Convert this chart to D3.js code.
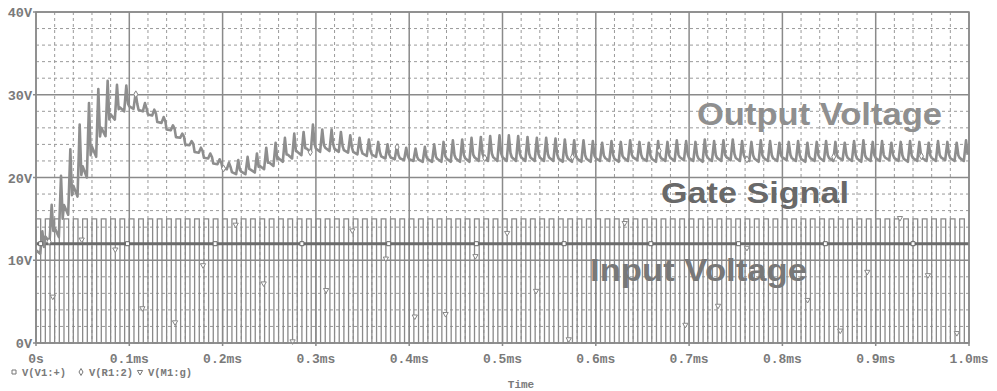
<!DOCTYPE html>
<html>
<head>
<meta charset="utf-8">
<script src="https://cdn.jsdelivr.net/npm/d3@7"></script>
<style>
  body { margin: 0; background: #fff; }
  svg { display: block; }
</style>
</head>
<body>
<div id="chart"></div>
<script>
// axis ticks
var timeTicks = [0, 0.1, 0.2, 0.3, 0.4, 0.5, 0.6, 0.7, 0.8, 0.9, 1.0];
var timeLabels = ["0s", "0.1ms", "0.2ms", "0.3ms", "0.4ms", "0.5ms", "0.6ms", "0.7ms", "0.8ms", "0.9ms", "1.0ms"];
var voltTicks = [0, 10, 20, 30, 40];
var voltLabels = ["0V", "10V", "20V", "30V", "40V"];

// switching: 100 cycles of 10us, gate 0..15V
var switchPeriod = 0.01;   // ms
var dutyCycle = 0.5;
var gateLow = 0, gateHigh = 15;

// input voltage V(V1:+)
var inputVoltage = 12;
var inputMarkers = [0.005, 0.098, 0.192, 0.285, 0.378, 0.472, 0.566, 0.659, 0.753, 0.846, 0.940];

// output voltage V(R1:2): trough / peak for every switching cycle
var outLow = [
  10.8, 12.2, 12.8, 15.5, 17.7, 20.0, 22.5, 25.0, 27.0, 28.0,
  28.3, 28.0, 27.5, 26.6, 25.7, 24.8, 23.9, 23.0, 22.3, 21.6,
  21.0, 20.4, 20.4, 20.6, 21.0, 21.4, 21.9, 22.3, 22.7, 23.0,
  23.1, 23.2, 23.1, 23.0, 22.8, 22.6, 22.5, 22.3, 22.2, 22.1,
  22.0, 21.9, 21.9, 21.9, 21.9, 21.9, 21.9, 22.0, 22.0, 22.0,
  22.0, 22.0, 22.0, 22.0, 22.0, 22.0, 21.9, 21.9, 21.9, 21.9,
  22.0, 22.0, 21.9, 22.0, 22.1, 22.0, 21.9, 22.0, 22.0, 22.1,
  22.0, 21.9, 22.0, 22.0, 22.1, 22.0, 22.0, 21.9, 22.0, 22.0,
  22.1, 22.0, 21.9, 22.0, 22.0, 22.0, 22.1, 22.0, 21.9, 22.0,
  22.0, 22.1, 22.0, 21.9, 22.0, 22.0, 22.0, 22.1, 22.0, 22.0
];
var outHigh = [
  13.5, 16.7, 20.2, 23.4, 26.4, 29.0, 30.7, 31.7, 31.2, 31.1,
  30.2, 29.0, 28.2, 27.3, 26.3, 25.3, 24.4, 23.6, 22.9, 22.2,
  21.8, 22.1, 22.5, 22.9, 23.6, 24.2, 24.8, 25.3, 25.5, 26.4,
  25.8, 25.8, 25.5, 25.1, 24.8, 24.6, 24.3, 24.0, 23.8, 23.6,
  23.5, 23.7, 24.0, 24.3, 24.5, 24.6, 24.8, 24.9, 25.0, 25.1,
  25.1, 25.0, 24.9, 24.8, 24.8, 24.7, 24.6, 24.5, 24.5, 24.4,
  24.2, 24.4, 24.3, 24.5, 24.3, 24.2, 24.4, 24.3, 24.5, 24.4,
  24.3, 24.6, 24.4, 24.5, 24.6, 24.4, 24.3, 24.5, 24.4, 24.2,
  24.3, 24.4, 24.2, 24.3, 24.4, 24.3, 24.2, 24.4, 24.5, 24.3,
  24.4, 24.2, 24.3, 24.4, 24.3, 24.2, 24.4, 24.3, 24.2, 24.5
];
var outMarkers = [0.014, 0.107, 0.201, 0.294, 0.387, 0.481, 0.575, 0.668, 0.762, 0.855, 0.949];

// gate V(M1:g) markers: time (ms), volts
var gateMarkT = [0.018, 0.049, 0.085, 0.114, 0.149, 0.179, 0.214, 0.244, 0.275, 0.311, 0.339, 0.375, 0.406, 0.439,
                 0.471, 0.505, 0.536, 0.571, 0.631, 0.696, 0.731, 0.762, 0.827, 0.862, 0.891, 0.926, 0.956, 0.987];
var gateMarkV = [5.6, 12.5, 11.3, 4.2, 2.5, 9.4, 14.3, 7.2, 0.2, 6.4, 13.6, 10.2, 3.2, 3.5,
                 10.5, 13.3, 6.3, 0.45, 14.5, 2.2, 4.5, 11.5, 5.2, 1.5, 8.6, 15.1, 8.2, 1.2];

var width = 997, height = 391;
var plotL = 36, plotR = 969, plotT = 12, plotB = 343;

var svg = d3.select("#chart").append("svg")
  .attr("width", width)
  .attr("height", height);

var x = d3.scaleLinear().domain([0, 1]).range([plotL, plotR]);
var y = d3.scaleLinear().domain([0, 40]).range([plotB, plotT]);

var mono = "'Liberation Mono', 'DejaVu Sans Mono', monospace";
var sans = "'Liberation Sans', Arial, sans-serif";

// minor dashed grid
var minorX = d3.range(0, 50).map(function(i) { return i * 0.02; }).filter(function(t, i) { return i % 5 != 0; });
var minorY = d3.range(0, 20).map(function(i) { return i * 2; }).filter(function(v, i) { return i % 5 != 0; });

svg.append("g").selectAll("line").data(minorX).enter().append("line")
  .attr("x1", function(d) { return x(d); }).attr("x2", function(d) { return x(d); })
  .attr("y1", plotT).attr("y2", plotB)
  .attr("stroke", "#9a9a9a").attr("stroke-width", 1).attr("stroke-dasharray", "3,3");
svg.append("g").selectAll("line").data(minorY).enter().append("line")
  .attr("y1", function(d) { return y(d); }).attr("y2", function(d) { return y(d); })
  .attr("x1", plotL).attr("x2", plotR)
  .attr("stroke", "#9a9a9a").attr("stroke-width", 1).attr("stroke-dasharray", "3,3");

// major solid grid
svg.append("g").selectAll("line").data(timeTicks).enter().append("line")
  .attr("x1", function(d) { return x(d); }).attr("x2", function(d) { return x(d); })
  .attr("y1", plotT).attr("y2", plotB + 3)
  .attr("stroke", "#8a8a8a").attr("stroke-width", 1.5);
svg.append("g").selectAll("line").data(voltTicks).enter().append("line")
  .attr("y1", function(d) { return y(d); }).attr("y2", function(d) { return y(d); })
  .attr("x1", plotL - 3).attr("x2", plotR)
  .attr("stroke", "#8a8a8a").attr("stroke-width", 1.5);

// gate signal square wave
var gatePts = [];
var nCycles = Math.round(1 / switchPeriod);
for (var k = 0; k < nCycles; k++) {
  var t0 = k * switchPeriod, t1 = t0 + dutyCycle * switchPeriod;
  gatePts.push([t0, gateLow], [t0, gateHigh], [t1, gateHigh], [t1, gateLow]);
}
gatePts.push([1, gateLow]);

var line = d3.line()
  .x(function(d) { return x(d[0]); })
  .y(function(d) { return y(d[1]); });

svg.append("path")
  .attr("d", line(gatePts))
  .attr("fill", "none")
  .attr("stroke", "#8a8a8a")
  .attr("stroke-width", 1.3);

// input voltage
svg.append("path")
  .attr("d", line([[0, inputVoltage], [1, inputVoltage]]))
  .attr("stroke", "#6a6a6a")
  .attr("stroke-width", 3);

// output voltage: flat-ish bottom then a narrow spike each cycle
var outPts = [];
for (var k = 0; k < outLow.length; k++) {
  var t0 = k * switchPeriod;
  var lo = outLow[k], hi = outHigh[k];
  outPts.push([t0, lo + 0.15 * (hi - lo)],
              [t0 + 0.45 * switchPeriod, lo],
              [t0 + 0.68 * switchPeriod, hi],
              [t0 + 0.86 * switchPeriod, lo + 0.3 * (hi - lo)]);
}

svg.append("path")
  .attr("d", line(outPts))
  .attr("fill", "none")
  .attr("stroke", "#8e8e8e")
  .attr("stroke-width", 2.6)
  .attr("stroke-linejoin", "round");

// markers
var sq = d3.symbol().type(d3.symbolSquare).size(16);
var dia = d3.symbol().type(d3.symbolDiamond).size(14);
var tri = d3.symbol().type(d3.symbolTriangle).size(12);

function outAt(t) {
  var i = d3.bisector(function(d) { return d[0]; }).left(outPts, t);
  var a = outPts[Math.max(0, i - 1)], b = outPts[Math.min(outPts.length - 1, i)];
  if (b[0] == a[0]) return a[1];
  return a[1] + (b[1] - a[1]) * (t - a[0]) / (b[0] - a[0]);
}

svg.append("g").selectAll("path").data(inputMarkers).enter().append("path")
  .attr("d", sq)
  .attr("transform", function(d) { return "translate(" + x(d) + "," + y(inputVoltage) + ")"; })
  .attr("fill", "#fff").attr("stroke", "#666").attr("stroke-width", 1);

svg.append("g").selectAll("path").data(outMarkers).enter().append("path")
  .attr("d", dia)
  .attr("transform", function(d) { return "translate(" + x(d) + "," + y(outAt(d)) + ")"; })
  .attr("fill", "#fff").attr("stroke", "#888").attr("stroke-width", 1);

svg.append("g").selectAll("path").data(gateMarkT).enter().append("path")
  .attr("d", tri)
  .attr("transform", function(d, i) { return "translate(" + x(d) + "," + y(gateMarkV[i]) + ") rotate(180)"; })
  .attr("fill", "#fff").attr("stroke", "#888").attr("stroke-width", 1);

// frame
svg.append("rect")
  .attr("x", plotL).attr("y", plotT)
  .attr("width", plotR - plotL).attr("height", plotB - plotT)
  .attr("fill", "none").attr("stroke", "#8a8a8a").attr("stroke-width", 1.5);

// tick labels
svg.append("g").selectAll("text").data(voltTicks).enter().append("text")
  .attr("x", 32)
  .attr("y", function(d) { return y(d) + 5; })
  .attr("text-anchor", "end")
  .style("font-family", mono).style("font-size", "13.5px").style("font-weight", "bold")
  .attr("fill", "#7a7a7a")
  .text(function(d, i) { return voltLabels[i]; });

svg.append("g").selectAll("text").data(timeTicks).enter().append("text")
  .attr("x", function(d) { return x(d); })
  .attr("y", 363)
  .attr("text-anchor", "middle")
  .style("font-family", mono).style("font-size", "13px").style("font-weight", "bold")
  .attr("fill", "#7a7a7a")
  .text(function(d, i) { return timeLabels[i]; });

// legend
var legend = svg.append("g").attr("transform", "translate(0,373)");
var legendItems = [
  { sym: sq, x: 14, label: "V(V1:+)", rot: 0 },
  { sym: dia, x: 81, label: "V(R1:2)", rot: 0 },
  { sym: tri, x: 140, label: "V(M1:g)", rot: 180 }
];
legendItems.forEach(function(d) {
  legend.append("path")
    .attr("d", d.sym)
    .attr("transform", "translate(" + d.x + ",-1) rotate(" + d.rot + ")")
    .attr("fill", "#fff").attr("stroke", "#777").attr("stroke-width", 1);
  legend.append("text")
    .attr("x", d.x + 8).attr("y", 3)
    .style("font-family", mono).style("font-size", "10.5px").style("font-weight", "bold")
    .attr("fill", "#7a7a7a")
    .text(d.label);
});

svg.append("text")
  .attr("x", 521).attr("y", 388)
  .attr("text-anchor", "middle")
  .style("font-family", mono).style("font-size", "11px").style("font-weight", "bold")
  .attr("fill", "#7a7a7a")
  .text("Time");

// annotations
var notes = [
  { text: "Output Voltage", x: 697, y: 125, len: 245, size: 32, color: "#8f8f8f" },
  { text: "Gate Signal", x: 661, y: 203, len: 188, size: 30, color: "#696969" },
  { text: "Input Voltage", x: 590, y: 281, len: 217, size: 32, color: "#787878" }
];
notes.forEach(function(d) {
  svg.append("text")
    .attr("x", d.x).attr("y", d.y)
    .attr("textLength", d.len).attr("lengthAdjust", "spacingAndGlyphs")
    .style("font-family", sans).style("font-size", d.size + "px").style("font-weight", "bold")
    .attr("fill", d.color)
    .text(d.text);
});
</script>
</body>
</html>
